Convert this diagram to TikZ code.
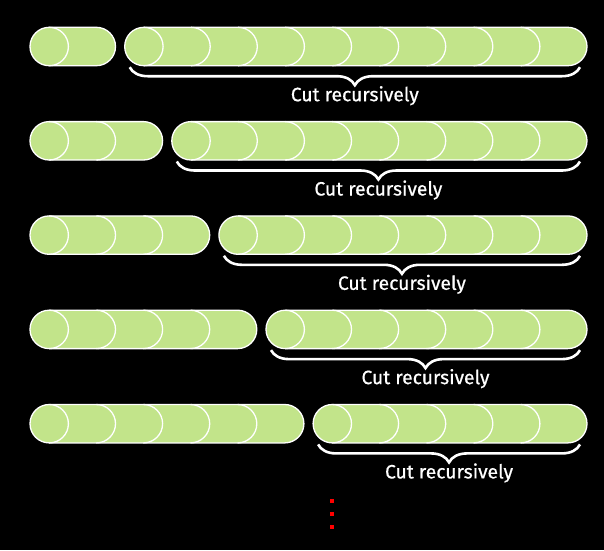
\documentclass[tikz,border=0pt]{standalone}
\usepackage{fontspec}
\setmainfont{Fira Sans}[FakeBold=0.6]
\usetikzlibrary{decorations.pathreplacing,calc}
\definecolor{rodgreen}{RGB}{194,228,138}
\tikzset{
  rod/.style={fill=rodgreen, draw=white, line width=1.3pt},
  seam/.style={draw=white, line width=1.3pt},
  cutbrace/.style={draw=white, line width=2.6pt, decorate,
    decoration={brace, mirror, amplitude=18pt}},
  cutlabel/.style={text=white, font=\fontsize{19.3}{22}\selectfont, anchor=base, inner sep=0pt},
  dotmark/.style={fill=red, minimum size=4pt, inner sep=0pt}
}
\begin{document}
\begin{tikzpicture}[x=1pt,y=1pt]
\fill[black] (0,0) rectangle (604,-550);
\useasboundingbox (0,0) rectangle (604,-550);
\def\R{19.2}
\def\L{47.1}
\foreach \k in {1,...,5}{
  \pgfmathsetmacro\yc{-(46.5+(\k-1)*94.3)}
  % left rod with k+1 units
  \pgfmathsetmacro\xa{30}
  \pgfmathsetmacro\xb{30+2*\R+\k*\L}
  \path[rod] (\xa+\R,\yc+\R) -- (\xb-\R,\yc+\R)
     arc[start angle=90, end angle=-90, radius=\R]
     -- (\xa+\R,\yc-\R)
     arc[start angle=270, end angle=90, radius=\R] -- cycle;
  \pgfmathtruncatemacro\nl{\k-1}
  \foreach \j in {0,...,\nl}{
    \draw[seam] (\xa+\R+\j*\L,\yc+\R) arc[start angle=90, end angle=-90, radius=\R];
  }
  % right rod with 11-k units
  \pgfmathsetmacro\xs{587-2*\R-(10-\k)*\L}
  \pgfmathsetmacro\xe{587}
  \path[rod] (\xs+\R,\yc+\R) -- (\xe-\R,\yc+\R)
     arc[start angle=90, end angle=-90, radius=\R]
     -- (\xs+\R,\yc-\R)
     arc[start angle=270, end angle=90, radius=\R] -- cycle;
  \pgfmathtruncatemacro\nr{9-\k}
  \foreach \j in {0,...,\nr}{
    \draw[seam] (\xs+\R+\j*\L,\yc+\R) arc[start angle=90, end angle=-90, radius=\R];
  }
  % brace and label
  \coordinate (bl\k) at (\xs+5,\yc-\R-1.5);
  \coordinate (br\k) at (580,\yc-\R-1.5);
  \draw[cutbrace] (bl\k) -- (br\k);
  \node[cutlabel] (lbl\k) at ($(bl\k)!0.5!(br\k)+(0,-34)$) {Cut recursively};
}
\node[dotmark] (d1) at (332,-501) {};
\node[dotmark] (d2) at (332,-514) {};
\node[dotmark] (d3) at (332,-527) {};
\end{tikzpicture}
\end{document}
